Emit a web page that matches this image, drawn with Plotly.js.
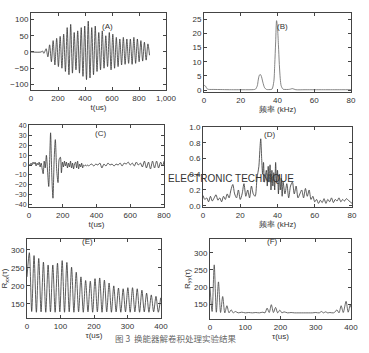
<!DOCTYPE html>
<html><head><meta charset="utf-8">
<script src="https://cdn.plot.ly/plotly-3.0.1.min.js"></script>
<style>html,body{margin:0;padding:0;background:#fff;}#chart{width:369px;height:353px;}</style>
</head><body><div id="chart"></div>
<script>
// (A) transducer signal, time in us
const A_t = [0,75,85,95,104,112,125,138,151,164,177,190,203,216,229,242,255,268,281,294,307,320,333,346,359,372,385,398,411,424,437,450,463,476,489,502,515,528,541,554,567,580,593,606,619,632,645,658,671,684,697,710,723,736,749,762,775,788,801,814,827,840,853,866,878];
const A_v = [0,0,3,-4,3,10,-15,22,-30,35,-40,42,-45,48,-50,55,-60,75,-70,85,-65,60,-55,65,-65,75,-75,80,-85,95,-80,75,-70,80,-60,60,-55,65,-50,50,-45,60,-55,55,-50,45,-45,40,-40,45,-38,40,-35,40,-38,45,-35,40,-30,35,-28,30,-25,25,-10];
// (B) spectrum, kHz
const B_f = [0,0.5,1,1.5,2,3,5,10,15,20,25,27,28,29,29.5,30,30.5,31,31.5,32,33,34,35,36,37,38,38.5,39,39.5,40,40.5,41,41.5,42,43,44,46,47,48,49,50,55,60,65,70,75,80];
const B_v = [1.5,1.6,1.2,0.6,0.3,0.2,0.2,0.15,0.1,0.1,0.1,0.15,0.3,1.5,3.5,5.0,5.5,5.2,4.2,2.8,0.8,0.2,0.15,0.15,0.3,3,9,17,24.5,22,16,9,4,1.5,0.3,0.2,0.2,0.3,0.5,0.3,0.1,0.1,0.1,0.1,0.1,0.1,0.1];
// (C) deconvolved signal
const C_t = [0,6,12,18,24,30,36,42,48,54,60,66,72,78,84,90,96,103,110,117,124,128,135,142,149,156,164,172,179,186,192,198,204,210,216,222,228,234,240,246,252,258,264,270,276,282,288,294,300,306,312,318,324,330,336,342,348,354,360,372,384,396,408,420,432,444,456,468,480,492,504,516,528,540,552,564,576,588,600,612,624,636,648,660,672,684,696,708,720,732,744,756,768,780,792,800];
const C_v = [1,-1,2,0,3,1,3,-1,2,0,3,-2,2,-4,-9,4,-3,10,-6,-22,15,33,-10,-34,5,26,-5,-18,6,8,-8,3,-2,4,-1,3,-3,2,-2,4,-3,2,-4,1,3,-3,4,-4,1,-2,2,-3,0,-1,0,-1,0,-1,0,1,-1,1,0,2,-3,1,-1,2,0,1,-1,1,0,2,-1,2,1,3,0,2,-1,3,0,2,-2,4,-3,3,-4,4,-3,4,-3,3,-1,4];
// (D) deconvolved spectrum
const D_f = [0,1,2,3,4,5,6,7,8,9,10,11,12,13,14,15,16,17,18,19,20,21,22,23,24,25,26,27,28,29,30,30.5,31,31.5,32,32.5,33,34,34.5,35,35.5,36,36.5,37,37.5,38,38.5,39,39.5,40,40.5,41,41.5,42,42.5,43,44,45,46,47,48,49,50,51,52,53,54,55,56,57,58,59,60,61,62,63,64,65,66,67,68,69,70,71,72,73,74,75,76,77,78,79,80];
const D_v = [0.13,0.08,0.1,0.05,0.12,0.06,0.1,0.14,0.07,0.1,0.05,0.12,0.08,0.15,0.1,0.2,0.27,0.15,0.1,0.2,0.08,0.15,0.28,0.12,0.2,0.1,0.25,0.15,0.12,0.35,0.5,0.7,0.85,0.6,0.4,0.55,0.3,0.45,0.25,0.5,0.3,0.52,0.2,0.45,0.25,0.42,0.2,0.55,0.3,0.45,0.15,0.4,0.2,0.35,0.12,0.3,0.15,0.28,0.1,0.25,0.3,0.15,0.25,0.1,0.15,0.2,0.1,0.22,0.12,0.2,0.08,0.12,0.05,0.08,0.03,0.07,0.04,0.09,0.03,0.08,0.05,0.1,0.04,0.08,0.06,0.1,0.05,0.08,0.06,0.09,0.07,0.05,0.03];
// (E) autocorrelation Rxx
const E_t = [0,7,14,21,28,35,42,49,56,63,70,77,84,91,98,105,112,119,126,133,140,147,154,161,168,175,182,189,196,203,210,217,224,231,238,245,252,259,266,273,280,287,294,301,308,315,322,329,336,343,350,357,364,371,378,385,392,399];
const E_v = [225,292,129,284,127,276,128,266,127,258,128,258,127,263,128,270,127,265,128,252,127,238,128,225,127,215,128,213,127,220,128,222,127,216,128,208,127,200,128,194,127,192,128,195,127,195,128,192,127,188,128,180,127,175,128,171,127,167];
// (F) autocorrelation Ryy
const F_t = [0,6,12,18,24,30,36,42,48,54,60,66,72,80,90,100,110,120,130,140,150,156,162,168,174,180,186,192,198,204,210,220,230,240,250,260,270,280,290,300,310,316,322,328,334,340,350,356,360,366,372,378,386,392,398,400];
const F_v = [200,128,265,126,215,125,172,124,145,124,133,124,128,124,126,124,125,124,125,124,126,124,138,125,148,125,140,124,132,124,127,124,125,124,124,124,124,124,124,125,124,128,124,127,124,125,124,128,133,124,145,125,158,126,148,140];

const F8 = {family:'Liberation Sans, Arial, sans-serif', size:8, color:'#333'};
function ax(o){
  return Object.assign({showline:true, linecolor:'#444', linewidth:1, mirror:'ticks', ticks:'inside', ticklen:3, tickcolor:'#444',
    zeroline:false, showgrid:false, tickfont:F8, fixedrange:true}, o);
}
function tr(x, y, xa, ya, color){
  return {x:x, y:y, xaxis:xa, yaxis:ya, type:'scatter', mode:'lines', line:{color:color, width:0.8, shape:'spline', smoothing:0.8}, hoverinfo:'skip', showlegend:false};
}
const data = [
  tr(A_t, A_v, 'x', 'y', '#333'),
  tr(B_f, B_v, 'x2', 'y2', '#666'),
  tr(C_t, C_v, 'x3', 'y3', '#333'),
  tr(D_f, D_v, 'x4', 'y4', '#333'),
  tr(E_t, E_v, 'x5', 'y5', '#333'),
  tr(F_t, F_v, 'x6', 'y6', '#444')
];
const W = 369, H = 353;
const dx = (a,b)=>[a/W, b/W];
const dy = (top,bot)=>[1-bot/H, 1-top/H];
const xt = (t)=>({text:t, font:F8, standoff:1});
const layout = {
  width:W, height:H, margin:{l:0,r:0,t:0,b:0}, paper_bgcolor:'#fff', plot_bgcolor:'#fff', showlegend:false,
  xaxis: ax({domain:dx(31,166), anchor:'y', range:[0,1000], tickvals:[0,200,400,600,800,1000], tickformat:',d', title:xt('t(us)')}),
  yaxis: ax({domain:dy(13,90), anchor:'x', range:[-117,120], dtick:50}),
  xaxis2: ax({domain:dx(204,351), anchor:'y2', range:[0,80], dtick:20, title:xt('频率 (kHz)')}),
  yaxis2: ax({domain:dy(13,92), anchor:'x2', range:[-0.7,27.2], dtick:5}),
  xaxis3: ax({domain:dx(29,164), anchor:'y3', range:[0,800], dtick:200, title:xt('t(us)')}),
  yaxis3: ax({domain:dy(125,207), anchor:'x3', range:[-43,41], dtick:10, tickfont:{family:F8.family, size:7, color:'#333'}}),
  xaxis4: ax({domain:dx(203,352), anchor:'y4', range:[0,80], dtick:20, title:xt('频率 (kHz)')}),
  yaxis4: ax({domain:dy(127,207), anchor:'x4', range:[-0.016,1.0], dtick:0.2, tickformat:'.1f'}),
  xaxis5: ax({domain:dx(27,161), anchor:'y5', range:[0,400], dtick:100, title:xt('τ(us)')}),
  yaxis5: ax({domain:dy(239,318), anchor:'x5', range:[111,330], dtick:50, title:{text:'R<sub>xx</sub>(τ)', font:F8, standoff:2}}),
  xaxis6: ax({domain:dx(210,351), anchor:'y6', range:[0,400], dtick:100, title:xt('τ(us)')}),
  yaxis6: ax({domain:dy(239,319), anchor:'x6', range:[106,341], dtick:50, title:{text:'R<sub>yy</sub>(τ)', font:F8, standoff:2}}),
  annotations:[
    {xref:'paper', yref:'paper', x:100/W, y:1-20/H, text:'(A)', showarrow:false, font:F8},
    {xref:'paper', yref:'paper', x:290/W, y:1-20/H, text:'(B)', showarrow:false, font:F8},
    {xref:'paper', yref:'paper', x:93/W, y:1-133/H, text:'(C)', showarrow:false, font:F8},
    {xref:'paper', yref:'paper', x:277/W, y:1-134/H, text:'(D)', showarrow:false, font:F8},
    {xref:'paper', yref:'paper', x:80/W, y:1-248/H, text:'(E)', showarrow:false, font:F8},
    {xref:'paper', yref:'paper', x:280/W, y:1-248/H, text:'(F)', showarrow:false, font:F8},
    {xref:'paper', yref:'paper', x:166/W, y:1-179/H, xanchor:'left', text:'ELECTRONIC TECHNIQUE', showarrow:false,
      font:{family:'Liberation Sans, Arial, sans-serif', size:10, color:'#333'}},
    {xref:'paper', yref:'paper', x:175/W, y:1-346/H, text:'图 3  换能器解卷积处理实验结果', showarrow:false,
      font:{family:'Noto Sans CJK SC, sans-serif', size:8.5, color:'#666'}}
  ]
};
Plotly.newPlot('chart', data, layout, {staticPlot:true, displayModeBar:false});
</script></body></html>
